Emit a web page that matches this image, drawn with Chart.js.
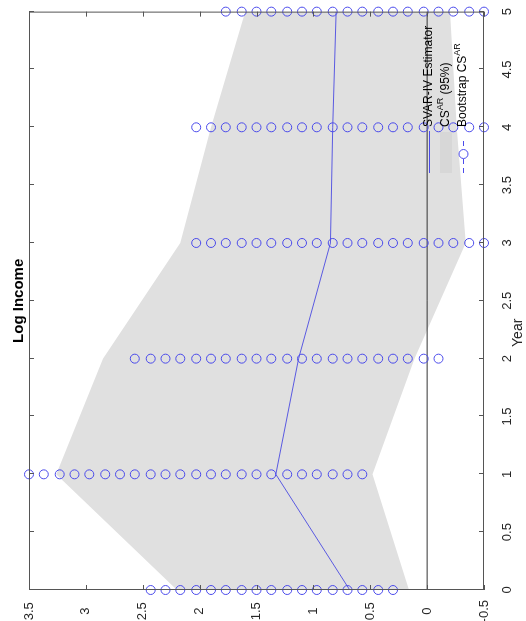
<!DOCTYPE html>
<html lang="en">
<head>
    <meta charset="UTF-8">
    <title>Log Income</title>
    <script src="https://cdn.jsdelivr.net/npm/chart.js"></script>
    <style>
        body { margin: 0; overflow: hidden; background: #fff; }
        /* the figure is drawn lying on its side: rotate the whole canvas */
        #wrap { position: absolute; left: 0; top: 621px; width: 621px; height: 526px;
                transform-origin: 0 0; transform: rotate(-90deg); }
    </style>
</head>
<body>
    <div id="wrap"><canvas id="irfChart" width="621" height="526"></canvas></div>

    <script>
        const years = [0, 1, 2, 3, 4, 5];
        const svarIV = [0.68, 1.33, 1.13, 0.85, 0.83, 0.80];
        const csUpper = [2.20, 3.26, 2.85, 2.17, 1.90, 1.60];
        const csLower = [0.16, 0.48, 0.11, -0.34, -0.26, -0.20];

        // bootstrap CS grid points, one list per year
        const boot0 = [2.43, 2.30, 2.17, 2.03, 1.90, 1.77, 1.63, 1.50, 1.37, 1.23, 1.10, 0.97, 0.83, 0.70, 0.57, 0.43, 0.30];
        const boot1 = [3.50, 3.37, 3.23, 3.10, 2.97, 2.83, 2.70, 2.57, 2.43, 2.30, 2.17, 2.03, 1.90, 1.77, 1.63, 1.50, 1.37, 1.23, 1.10, 0.97, 0.83, 0.70, 0.57];
        const boot2 = [2.57, 2.43, 2.30, 2.17, 2.03, 1.90, 1.77, 1.63, 1.50, 1.37, 1.23, 1.10, 0.97, 0.83, 0.70, 0.57, 0.43, 0.30, 0.17, 0.03, -0.10];
        const boot3 = [2.03, 1.90, 1.77, 1.63, 1.50, 1.37, 1.23, 1.10, 0.97, 0.83, 0.70, 0.57, 0.43, 0.30, 0.17, 0.03, -0.10, -0.23, -0.37, -0.50];
        const boot4 = [2.03, 1.90, 1.77, 1.63, 1.50, 1.37, 1.23, 1.10, 0.97, 0.83, 0.70, 0.57, 0.43, 0.30, 0.17, 0.03, -0.10, -0.23, -0.37, -0.50];
        const boot5 = [1.77, 1.63, 1.50, 1.37, 1.23, 1.10, 0.97, 0.83, 0.70, 0.57, 0.43, 0.30, 0.17, 0.03, -0.10, -0.23, -0.37, -0.50];
        const bootSets = [boot0, boot1, boot2, boot3, boot4, boot5];

        const zeroLine = [0, 0];
        const zeroYears = [0, 5];

        const font = "'Liberation Sans', Arial, sans-serif";
        const blue = 'rgb(75,75,235)';
        const bandGrey = 'rgb(224,224,224)';

        const pts = (xs, ys) => xs.map((x, i) => ({ x: x, y: ys[i] }));
        const bootPoints = years.flatMap((yr, i) => bootSets[i].map(v => ({ x: yr, y: v })));
        const fmt = v => String(Math.round(v * 10) / 10);

        // box with inward ticks on all four sides, title, x label, legend
        const decorations = {
            id: 'decorations',
            afterDatasetsDraw(chart) {
                const { ctx, chartArea: a, scales: { x, y } } = chart;
                ctx.save();
                ctx.strokeStyle = '#555';
                ctx.lineWidth = 1;
                ctx.strokeRect(a.left + 0.5, a.top + 0.5, a.right - a.left - 1, a.bottom - a.top - 1);
                ctx.beginPath();
                x.ticks.forEach(t => {
                    const px = Math.round(x.getPixelForValue(t.value)) + 0.5;
                    ctx.moveTo(px, a.bottom); ctx.lineTo(px, a.bottom - 5);
                    ctx.moveTo(px, a.top); ctx.lineTo(px, a.top + 5);
                });
                y.ticks.forEach(t => {
                    const py = Math.round(y.getPixelForValue(t.value)) + 0.5;
                    ctx.moveTo(a.left, py); ctx.lineTo(a.left + 5, py);
                    ctx.moveTo(a.right, py); ctx.lineTo(a.right - 5, py);
                });
                ctx.stroke();
                ctx.restore();
            },
            afterDraw(chart) {
                const { ctx, chartArea: a } = chart;
                const cx = (a.left + a.right) / 2;
                ctx.save();
                ctx.fillStyle = '#000';
                ctx.textAlign = 'center';
                ctx.textBaseline = 'middle';
                ctx.font = 'bold 15px ' + font;
                ctx.fillText('Log Income', cx, 19);
                ctx.fillStyle = '#262626';
                ctx.font = '14px ' + font;
                ctx.fillText('Year', cx - 32, 518);

                // legend
                const lx = 448, tx = 494;
                const rows = [429, 446, 463];
                ctx.strokeStyle = blue;
                ctx.lineWidth = 1;
                ctx.beginPath();
                ctx.moveTo(lx, rows[0] + 0.5); ctx.lineTo(490, rows[0] + 0.5);
                ctx.stroke();
                ctx.fillStyle = 'rgb(215,215,215)';
                ctx.fillRect(lx, rows[1] - 6, 41, 12);
                ctx.setLineDash([5, 4]);
                ctx.beginPath();
                ctx.moveTo(lx, rows[2] + 0.5); ctx.lineTo(482, rows[2] + 0.5);
                ctx.stroke();
                ctx.setLineDash([]);
                ctx.fillStyle = '#fff';
                ctx.beginPath();
                ctx.arc(467, rows[2] + 0.5, 4.5, 0, Math.PI * 2);
                ctx.fill();
                ctx.stroke();

                ctx.fillStyle = '#000';
                ctx.textAlign = 'left';
                ctx.textBaseline = 'middle';
                const big = '12px ' + font, small = '9px ' + font;
                ctx.font = big;
                ctx.fillText('SVAR-IV Estimator', tx, rows[0]);
                const supText = (pre, sup, post, yy) => {
                    ctx.font = big;
                    ctx.fillText(pre, tx, yy);
                    let w = ctx.measureText(pre).width;
                    ctx.font = small;
                    ctx.fillText(sup, tx + w, yy - 5);
                    w += ctx.measureText(sup).width;
                    ctx.font = big;
                    if (post) ctx.fillText(post, tx + w, yy);
                };
                supText('CS', 'AR', ' (95%)', rows[1]);
                supText('Bootstrap CS', 'AR', '', rows[2]);
                ctx.restore();
            }
        };

        const ctx = document.getElementById('irfChart').getContext('2d');
        const irfChart = new Chart(ctx, {
            type: 'line',
            data: {
                datasets: [
                    {
                        label: 'Bootstrap CS',
                        data: bootPoints,
                        showLine: false,
                        pointStyle: 'circle',
                        pointRadius: 4.5,
                        pointBorderWidth: 1,
                        pointBorderColor: blue,
                        pointBackgroundColor: 'rgba(0,0,0,0)',
                        clip: false
                    },
                    {
                        label: 'SVAR-IV Estimator',
                        data: pts(years, svarIV),
                        borderColor: 'rgb(90,90,225)',
                        borderWidth: 1,
                        pointRadius: 0,
                        fill: false
                    },
                    {
                        label: 'zero',
                        data: pts(zeroYears, zeroLine),
                        borderColor: '#333',
                        borderWidth: 1,
                        pointRadius: 0,
                        fill: false
                    },
                    {
                        label: 'lower',
                        data: pts(years, csLower),
                        borderWidth: 0,
                        borderColor: 'rgba(0,0,0,0)',
                        pointRadius: 0,
                        fill: false
                    },
                    {
                        label: 'CS AR (95%)',
                        data: pts(years, csUpper),
                        borderWidth: 0,
                        borderColor: 'rgba(0,0,0,0)',
                        backgroundColor: bandGrey,
                        pointRadius: 0,
                        fill: '-1'
                    }
                ]
            },
            options: {
                responsive: false,
                devicePixelRatio: 1,
                animation: false,
                layout: { padding: { top: 29, right: 11, left: 0, bottom: 0 } },
                plugins: {
                    legend: { display: false },
                    title: { display: false },
                    tooltip: { enabled: false }
                },
                scales: {
                    x: {
                        type: 'linear',
                        min: 0,
                        max: 5,
                        ticks: { stepSize: 0.5, padding: 8, callback: fmt, color: '#262626', font: { family: font, size: 13 }, maxRotation: 0 },
                        grid: { display: false },
                        border: { display: false },
                        afterFit(scale) { scale.height = 42; }
                    },
                    y: {
                        min: -0.5,
                        max: 3.5,
                        ticks: { stepSize: 0.5, padding: 2, callback: fmt, crossAlign: 'center', color: '#262626', font: { family: font, size: 13 } },
                        grid: { display: false },
                        border: { display: false },
                        afterFit(scale) { scale.width = 31; }
                    }
                }
            },
            plugins: [decorations]
        });
    </script>
</body>
</html>
